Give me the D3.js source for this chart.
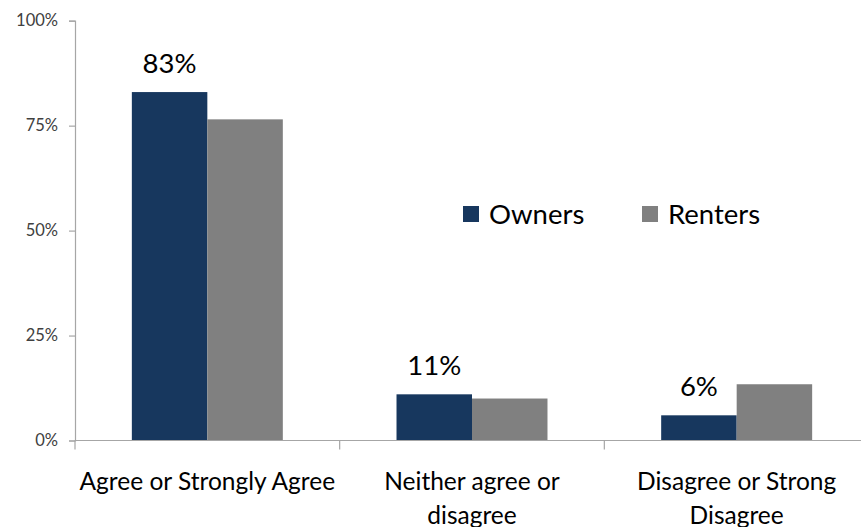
<!DOCTYPE html>
<html>
<head>
<meta charset="utf-8">
<script src="https://cdn.jsdelivr.net/npm/d3@7"></script>
<style>
  html, body { margin: 0; padding: 0; background: #fff; }
  svg { display: block; }
  text { font-family: Lato, "Open Sans", sans-serif; }
</style>
</head>
<body>
<svg id="chart" width="861" height="527"></svg>
<script>
// Survey responses by tenure
const categories = [["Agree or Strongly Agree"], ["Neither agree or", "disagree"], ["Disagree or Strong", "Disagree"]];
const seriesNames = ["Owners", "Renters"];
const owners = [0.83, 0.11, 0.06];
const renters = [0.765, 0.10, 0.134];
const yTicks = [0, 0.25, 0.5, 0.75, 1];
const colors = { Owners: "#17375E", Renters: "#808080" };

const svg = d3.select("#chart");
const catKeys = categories.map(c => c.join(" "));
const rows = catKeys.map((k, i) => ({ key: k, lines: categories[i], Owners: owners[i], Renters: renters[i] }));

const x0 = d3.scaleBand().domain(catKeys).range([75, 869]).paddingInner(0).paddingOuter(0);
const x1 = d3.scaleBand().domain(seriesNames).range([0, x0.bandwidth()]).paddingInner(0).paddingOuter(0.753);
const y = d3.scaleLinear().domain([0, 1]).range([440.5, 20.7]);

const axisColor = "#a6a6a6";

// y axis
const yAxis = svg.append("g").attr("transform", "translate(75,0)")
  .call(d3.axisLeft(y).tickValues(yTicks).tickFormat(d3.format(".0%")).tickSize(6).tickPadding(11));
yAxis.select(".domain").attr("stroke", axisColor).attr("stroke-width", 1.2);
yAxis.selectAll(".tick line").attr("stroke", axisColor).attr("stroke-width", 1.2);
yAxis.selectAll(".tick text").attr("fill", "#404040").style("font-size", "16.5px");

// bars
const groups = svg.append("g").selectAll("g").data(rows).join("g")
  .attr("transform", d => `translate(${x0(d.key)},0)`);
groups.selectAll("rect").data(d => seriesNames.map(s => ({ s, v: d[s] }))).join("rect")
  .attr("x", d => x1(d.s))
  .attr("width", x1.bandwidth())
  .attr("y", d => y(d.v))
  .attr("height", d => y(0) - y(d.v))
  .attr("fill", d => colors[d.s]);

// value labels over the owners bars
groups.append("text")
  .attr("x", x1("Owners") + x1.bandwidth() / 2)
  .attr("y", d => y(d.Owners) - 19)
  .attr("text-anchor", "middle")
  .attr("fill", "#000")
  .style("font-size", "27.5px")
  .text(d => d3.format(".0%")(d.Owners));

// x axis with ticks at category boundaries
const xAxisG = svg.append("g").attr("transform", `translate(0,${y(0)})`);
xAxisG.append("line").attr("x1", 75).attr("x2", 869).attr("stroke", axisColor).attr("stroke-width", 1.2);
const bounds = catKeys.map(k => x0(k)).concat([x0.range()[1]]);
xAxisG.selectAll("line.tk").data(bounds).join("line").attr("class", "tk")
  .attr("x1", d => d).attr("x2", d => d).attr("y1", 0).attr("y2", 9)
  .attr("stroke", axisColor).attr("stroke-width", 1.2);

// category labels
const catText = svg.append("g").selectAll("text").data(rows).join("text")
  .attr("x", d => x0(d.key) + x0.bandwidth() / 2)
  .attr("y", 490)
  .attr("text-anchor", "middle")
  .attr("fill", "#000")
  .style("font-size", "24.5px");
catText.selectAll("tspan").data(d => d.lines).join("tspan")
  .attr("x", function () { return d3.select(this.parentNode).attr("x"); })
  .attr("dy", (d, i) => i === 0 ? 0 : 34)
  .text(d => d);

// legend
const legend = svg.append("g");
const legendX = [463, 642];
seriesNames.forEach((s, i) => {
  legend.append("rect").attr("x", legendX[i]).attr("y", 206).attr("width", 16).attr("height", 16).attr("fill", colors[s]);
  legend.append("text").attr("x", legendX[i] + 26).attr("y", 214).attr("dy", "0.35em")
    .attr("fill", "#000").style("font-size", "27.5px").text(s);
});
</script>
</body>
</html>
